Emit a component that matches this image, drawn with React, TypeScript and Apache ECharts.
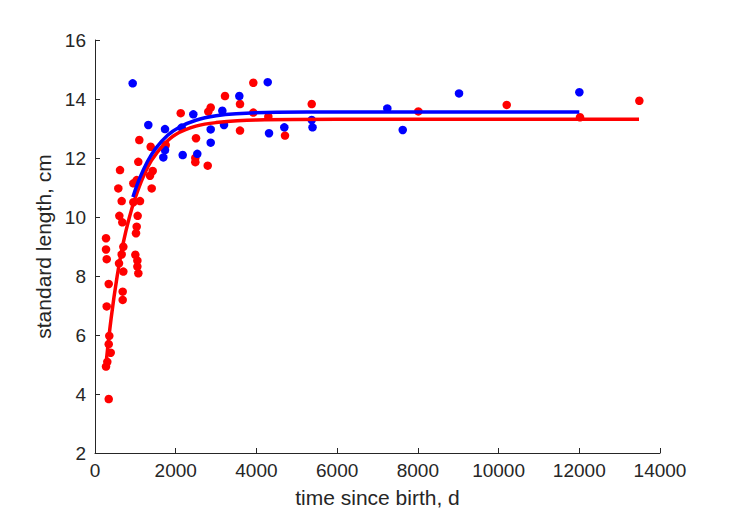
import React, { useEffect, useRef } from "react";
import * as echarts from "echarts";

// Observed data: [time since birth (d), standard length (cm)]
const redPoints: [number, number][] = [
  [273, 9.28], [273, 8.9], [290, 8.57], [340, 7.73], [290, 6.97], [354, 5.97],
  [340, 5.69], [389, 5.4], [305, 5.09], [273, 4.93], [340, 3.83],
  [686, 7.47], [686, 7.19], [595, 8.43], [702, 8.15], [661, 8.73], [702, 8.99],
  [1000, 8.72], [1050, 8.52], [1050, 8.32], [1074, 8.09],
  [620, 11.59], [578, 10.97], [661, 10.54], [603, 10.04], [677, 9.82],
  [1073, 11.87], [1098, 12.61], [1380, 12.38], [1430, 11.56], [1363, 11.4],
  [950, 11.14], [1033, 11.25], [1405, 10.97], [950, 10.5], [1115, 10.54],
  [1057, 10.04], [1033, 9.67], [1016, 9.45],
  [2124, 13.52], [2867, 13.71], [2808, 13.57], [3221, 14.1], [3593, 13.83],
  [3923, 14.55], [3923, 13.54], [4295, 13.4], [3593, 12.93], [4708, 12.76],
  [2503, 12.67], [2486, 12.0], [2486, 11.86], [2793, 11.74], [1752, 12.44],
  [5370, 13.83], [8012, 13.58], [10202, 13.8], [12018, 13.38], [13488, 13.94],
];

const bluePoints: [number, number][] = [
  [934, 14.53], [1321, 13.12], [1735, 12.98], [2148, 13.03], [2436, 13.48],
  [2867, 12.97], [3197, 13.12], [3155, 13.6], [3576, 14.1], [4280, 14.57],
  [4312, 12.84], [4691, 13.04], [2867, 12.52], [1735, 12.27], [1693, 12.02],
  [2173, 12.1], [2535, 12.14], [5370, 13.29], [5390, 13.04], [7243, 13.68],
  [7625, 12.95], [9020, 14.19], [12002, 14.23],
];

// Fitted growth curves
const redCurve: [number, number][] = [
  [270, 4.98], [400, 6.57], [550, 8.0], [700, 9.12], [850, 9.98], [1000, 10.66],
  [1200, 11.38], [1400, 11.92], [1700, 12.45], [2000, 12.8], [2500, 13.08],
  [3000, 13.2], [4000, 13.29], [6000, 13.31], [13480, 13.31],
];

const blueCurve: [number, number][] = [
  [940, 10.68], [1100, 11.29], [1300, 11.88], [1500, 12.32], [1800, 12.77],
  [2100, 13.05], [2500, 13.28], [3000, 13.43], [3500, 13.5], [4500, 13.55],
  [6000, 13.56], [12000, 13.56],
];

const xTitle = "time since birth, d";
const yTitle = "standard length, cm";

const FONT = "'Liberation Sans', Arial, Helvetica, sans-serif";
const INK = "#262626";

export default function App() {
  const ref = useRef<HTMLDivElement>(null);

  useEffect(() => {
    if (!ref.current) return;
    const chart = echarts.init(ref.current, undefined, { renderer: "svg" });
    const axisCommon = {
      axisLine: { show: true, lineStyle: { color: INK, width: 1 } },
      axisTick: { show: true, inside: true, length: 5, lineStyle: { color: INK } },
      splitLine: { show: false },
      nameLocation: "middle" as const,
      nameTextStyle: { color: INK, fontSize: 21, fontFamily: FONT },
    };
    chart.setOption({
      animation: false,
      backgroundColor: "#ffffff",
      grid: { left: 95, right: 69, top: 40, bottom: 68, containLabel: false },
      xAxis: {
        type: "value",
        min: 0,
        max: 14000,
        interval: 2000,
        name: xTitle,
        nameGap: 34,
        ...axisCommon,
        axisLabel: {
          color: INK,
          fontSize: 19,
          fontFamily: FONT,
          margin: 8,
          formatter: (v: number) => String(v),
        },
      },
      yAxis: {
        type: "value",
        min: 2,
        max: 16,
        interval: 2,
        name: yTitle,
        nameGap: 36,
        ...axisCommon,
        axisLabel: {
          color: INK,
          fontSize: 19,
          fontFamily: FONT,
          margin: 9,
          formatter: (v: number) => String(v),
        },
      },
      series: [
        {
          type: "scatter",
          data: redPoints,
          symbolSize: 8.5,
          itemStyle: { color: "#ff0000", opacity: 1 },
          z: 2,
        },
        {
          type: "scatter",
          data: bluePoints,
          symbolSize: 8.5,
          itemStyle: { color: "#0000ff", opacity: 1 },
          z: 2,
        },
        {
          type: "line",
          data: redCurve,
          smooth: 0.4,
          showSymbol: false,
          lineStyle: { color: "#ff0000", width: 3.5 },
          z: 3,
        },
        {
          type: "line",
          data: blueCurve,
          smooth: 0.4,
          showSymbol: false,
          lineStyle: { color: "#0000ff", width: 3.5 },
          z: 4,
        },
      ],
    });
    return () => chart.dispose();
  }, []);

  return (
    <div
      ref={ref}
      style={{ position: "fixed", left: 0, top: 0, width: 729, height: 521 }}
    />
  );
}
